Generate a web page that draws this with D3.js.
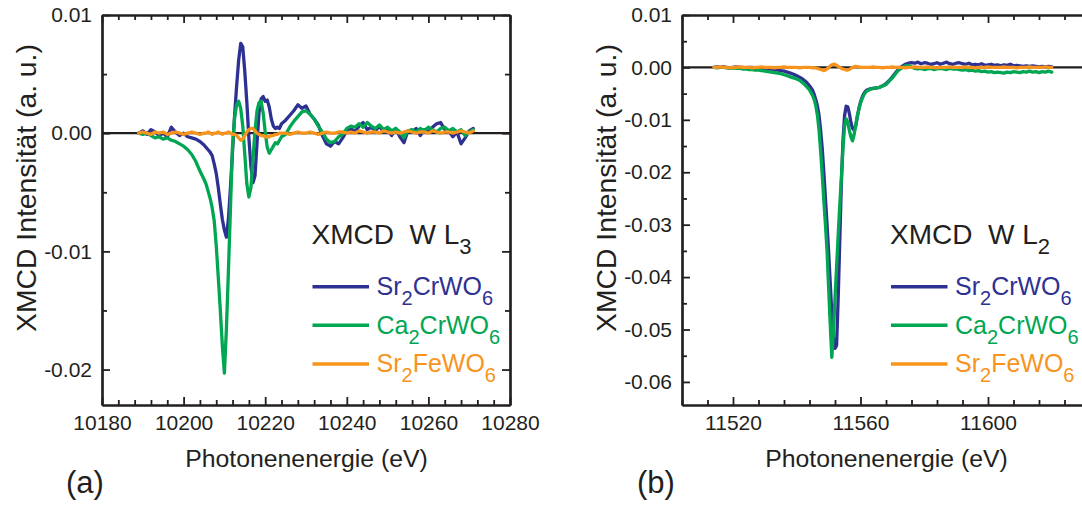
<!DOCTYPE html>
<html>
<head>
<meta charset="utf-8">
<script src="https://cdn.jsdelivr.net/npm/d3@7"></script>
<style>
  html, body { margin: 0; padding: 0; background: #fff; }
  svg { display: block; font-family: "Liberation Sans", Arial, Helvetica, sans-serif; }
</style>
</head>
<body>
<svg id="chart" width="1082" height="506"></svg>
<script>
// ---------- W L3 edge (panel a) ----------
const energyA = [
  10189,10190,10191,10192,10193,10194,10195,10196,10197,10198,10199,10200,10201,10202,10203,10204,10205,
  10205.5,10206,10206.5,10207,10207.5,10208,10208.5,10209,10209.5,10210,10210.5,10211,10211.5,10212,10212.5,
  10213,10213.5,10214,10214.5,10215,10215.5,10216,10216.5,10217,10217.5,10218,10218.5,10219,10219.5,10220,
  10220.5,10221,10221.5,10222,10222.5,10223,10223.5,10224,
  10225,10226,10227,10228,10229,10230,10231,10232,10233,10234,10235,10236,10237,10238,10239,10240,10241,
  10242,10243,10244,10245,10246,10247,10248,10249,10250,10251,10252,10253,10254,10255,10256,10257,10258,
  10259,10260,10261,10262,10263,10264,10265,10266,10267,10268,10269,10270,10271
];
const sr2crwo6A = [
  0.0000,0.0002,-0.0001,0.0003,0.0001,-0.0002,0.0000,-0.0003,0.0005,0.0001,-0.0002,0.0000,-0.0003,-0.0004,-0.0005,-0.0007,-0.0010,
  -0.0012,-0.0014,-0.0016,-0.0019,-0.0026,-0.0034,-0.0046,-0.0060,-0.0073,-0.0082,-0.0088,-0.0072,-0.0045,-0.0015,0.0015,
  0.0040,0.0062,0.0076,0.0073,0.0052,0.0026,-0.0004,-0.0028,-0.0042,-0.0036,-0.0008,0.0018,0.0029,0.0031,0.0027,
  0.0028,0.0022,0.0012,0.0006,0.0004,0.0005,0.0004,0.0008,
  0.0011,0.0015,0.0019,0.0024,0.0021,0.0023,0.0016,0.0012,0.0007,-0.0002,-0.0009,-0.0011,-0.0007,-0.0009,-0.0004,0.0002,0.0004,
  0.0001,0.0006,0.0009,0.0003,0.0005,0.0002,0.0006,0.0001,0.0003,-0.0002,0.0004,-0.0003,-0.0008,0.0002,0.0001,0.0004,-0.0002,
  0.0003,0.0001,0.0005,0.0008,0.0009,0.0003,0.0002,-0.0003,0.0001,-0.0009,-0.0004,0.0002,0.0004
];
const ca2crwo6A = [
  0.0000,-0.0001,0.0000,-0.0002,-0.0004,-0.0003,-0.0005,-0.0004,-0.0006,-0.0007,-0.0009,-0.0011,-0.0014,-0.0018,-0.0024,-0.0032,-0.0039,
  -0.0043,-0.0049,-0.0055,-0.0063,-0.0074,-0.0095,-0.0122,-0.0150,-0.0180,-0.0203,-0.0165,-0.0115,-0.0062,-0.0010,0.0013,
  0.0024,0.0027,0.0021,0.0006,-0.0018,-0.0043,-0.0054,-0.0046,-0.0022,0.0002,0.0019,0.0026,0.0027,0.0017,0.0001,
  -0.0012,-0.0017,-0.0014,-0.0011,-0.0008,-0.0009,-0.0006,-0.0003,
  -0.0001,0.0005,0.0010,0.0014,0.0018,0.0019,0.0016,0.0012,0.0006,0.0001,-0.0005,-0.0008,-0.0007,-0.0003,-0.0001,0.0004,0.0006,
  0.0005,0.0008,0.0005,0.0009,0.0006,0.0004,0.0007,0.0003,0.0005,0.0002,0.0004,0.0001,-0.0004,0.0002,0.0003,0.0001,0.0004,
  0.0002,0.0005,0.0003,0.0001,0.0004,0.0005,0.0002,0.0004,0.0001,0.0003,-0.0002,0.0001,0.0003
];
const sr2fewo6A = [
  0,0.0001,0,-0.0001,0.0001,0,0.0001,-0.0001,0,0.0001,0,-0.0001,0,0.0001,0,-0.0001,0,
  0,0.0001,0,-0.0001,0,0,0.0001,0,-0.0001,0,0,0.0001,0,-0.0001,-0.0001,
  -0.0002,-0.0004,-0.0006,-0.0005,-0.0002,0.0001,0.0003,0.0004,0.0004,0.0002,0,-0.0001,-0.0002,-0.0002,-0.0003,
  -0.0003,-0.0003,-0.0002,-0.0002,-0.0001,-0.0001,0,0,
  0,-0.0001,0,0.0001,0,0,0.0001,0,-0.0001,0,0.0001,0,0,0.0001,0.0001,0,0.0001,
  0,0.0002,0.0001,0,0.0001,0.0001,0,0.0002,0.0001,0,0.0001,0,0.0001,0.0002,0.0001,0,0.0001,
  0.0001,0,0.0002,0.0001,0,0.0001,0.0001,0,0.0001,0.0002,0.0001,0,0.0002
];

// ---------- W L2 edge (panel b) ----------
const energyB = [
  11514,11515,11516,11517,11518,11519,11520,11521,11522,11523,11524,11525,11526,11527,11528,11529,11530,
  11531,11532,11533,11534,11535,11536,11537,11538,11539,11540,11541,11542,11543,11544,11545,
  11545.5,11546,11546.5,11547,11547.5,11548,11548.5,11549,11549.5,11550,11550.5,11551,11551.5,11552,11552.5,
  11553,11553.5,11554,11554.5,11555,11555.5,11556,11556.5,11557,11557.5,11558,11558.5,11559,11559.5,11560,
  11560.5,11561,11561.5,11562,
  11563,11564,11565,11566,11567,11568,11569,11570,11571,11572,11573,11574,11575,11576,11577,11578,11579,
  11580,11581,11582,11583,11584,11585,11586,11587,11588,11589,11590,11591,11592,11593,11594,11595,11596,
  11597,11598,11599,11600,11601,11602,11603,11604,11605,11606,11607,11608,11609,11610,11611,11612,11613,
  11614,11615,11616,11617,11618,11619,11620
];
const sr2crwo6B = [
  0,0.0001,0,0.0001,0,-0.0001,0,0.0001,0,0,-0.0001,0,0,-0.0001,-0.0001,-0.0002,-0.0002,
  -0.0003,-0.0003,-0.0004,-0.0005,-0.0006,-0.0007,-0.0009,-0.0011,-0.0013,-0.0016,-0.0019,-0.0023,-0.0028,-0.0035,-0.0044,
  -0.0052,-0.0062,-0.0074,-0.0092,-0.0120,-0.0155,-0.0200,-0.0250,-0.0300,-0.0352,-0.0410,-0.0470,-0.0515,-0.0536,-0.0530,
  -0.0440,-0.0330,-0.0220,-0.0140,-0.0092,-0.0074,-0.0075,-0.0088,-0.0105,-0.0116,-0.0120,-0.0112,-0.0095,-0.0078,-0.0066,
  -0.0057,-0.0050,-0.0046,-0.0043,
  -0.0041,-0.0040,-0.0039,-0.0038,-0.0035,-0.0031,-0.0025,-0.0018,-0.0010,-0.0003,0.0002,0.0006,0.0008,0.0009,0.0008,0.0010,0.0007,
  0.0009,0.0008,0.0006,0.0007,0.0009,0.0006,0.0008,0.0010,0.0007,0.0006,0.0008,0.0009,0.0007,0.0006,0.0008,0.0005,0.0006,
  0.0005,0.0007,0.0004,0.0005,0.0006,0.0004,0.0005,0.0003,0.0005,0.0004,0.0006,0.0003,0.0004,0.0003,0.0002,0.0003,0.0002,
  0.0003,0.0002,0.0001,0.0002,0.0001,0.0002,0.0001
];
const ca2crwo6B = [
  0,-0.0001,0,0,-0.0001,-0.0002,-0.0001,-0.0002,-0.0002,-0.0003,-0.0003,-0.0004,-0.0004,-0.0005,-0.0005,-0.0006,-0.0007,
  -0.0008,-0.0009,-0.0010,-0.0011,-0.0012,-0.0014,-0.0016,-0.0018,-0.0020,-0.0022,-0.0025,-0.0030,-0.0036,-0.0043,-0.0054,
  -0.0062,-0.0074,-0.0092,-0.0120,-0.0160,-0.0205,-0.0255,-0.0300,-0.0350,-0.0420,-0.0490,-0.0553,-0.0505,-0.0440,-0.0380,
  -0.0320,-0.0262,-0.0210,-0.0155,-0.0112,-0.0098,-0.0105,-0.0120,-0.0133,-0.0140,-0.0128,-0.0110,-0.0092,-0.0080,-0.0068,
  -0.0060,-0.0053,-0.0048,-0.0045,
  -0.0042,-0.0040,-0.0039,-0.0038,-0.0035,-0.0033,-0.0026,-0.0020,-0.0012,-0.0005,-0.0001,0.0003,0.0004,0.0001,-0.0002,-0.0003,-0.0002,
  -0.0004,-0.0003,-0.0002,-0.0004,-0.0003,-0.0002,-0.0003,-0.0004,-0.0002,-0.0003,-0.0003,-0.0004,-0.0005,-0.0004,-0.0006,-0.0005,-0.0007,
  -0.0006,-0.0008,-0.0007,-0.0009,-0.0008,-0.0010,-0.0009,-0.0010,-0.0011,-0.0009,-0.0010,-0.0008,-0.0009,-0.0010,-0.0008,-0.0009,-0.0007,
  -0.0009,-0.0008,-0.0010,-0.0008,-0.0009,-0.0007,-0.0009
];
const sr2fewo6B = [
  0,0,0.0001,0,0,-0.0001,0,0,0.0001,0,0,0,-0.0001,0,0,0.0001,0,
  0,0,-0.0001,0,0,0.0001,0,0,0,0,-0.0001,0,0,0,-0.0001,
  -0.0001,-0.0001,-0.0002,-0.0003,-0.0004,-0.0005,-0.0006,-0.0005,-0.0003,0,0.0003,0.0005,0.0006,0.0006,0.0004,
  0.0002,0,-0.0002,-0.0003,-0.0004,-0.0005,-0.0005,-0.0004,-0.0002,0,0.0001,0.0002,0.0001,0.0001,0,
  0,0,0,0,
  0,0.0001,0,0,-0.0001,0,0,0.0001,0,0,0,-0.0001,0,0,0.0001,0,0,
  0,0.0001,0,0,-0.0001,0,0,0,0.0001,0,0,0,0,0.0001,0,0,-0.0001,
  0,0,0,0.0001,0,0,0,0,0.0001,0,0,0,-0.0001,0,0,0,0.0001,
  0,0,0,0,0.0001,0,0
];

// ---------- axes & labels ----------
const xMajorA = [10180, 10200, 10220, 10240, 10260, 10280];
const xMinorA = [10184,10188,10192,10196,10204,10208,10212,10216,10224,10228,10232,10236,
                 10244,10248,10252,10256,10264,10268,10272,10276];
const yMajorA = [0.01, 0.00, -0.01, -0.02];
const yMinorA = [0.005, -0.005, -0.015];
const xMajorB = [11520, 11560, 11600];
const xMinorB = [11504,11512,11528,11536,11544,11552,11568,11576,11584,11592,11608,11616,11624];
const yMajorB = [0.01, 0.00, -0.01, -0.02, -0.03, -0.04, -0.05, -0.06];
const yMinorB = [0.005, -0.005, -0.015, -0.025, -0.035, -0.045, -0.055];

const seriesLabels = [["Sr", "2", "CrWO", "6"], ["Ca", "2", "CrWO", "6"], ["Sr", "2", "FeWO", "6"]];
const seriesColors = ["#2e3192", "#00a651", "#f7941d"];
const xTitle = "Photonenenergie (eV)";
const yTitle = "XMCD Intensität (a. u.)";

const INK = "#231f20";
const svg = d3.select("#chart");

function subText(sel, parts, subSize, shift) {
  sel.append("tspan").text(parts[0]);
  sel.append("tspan").attr("font-size", subSize).attr("dy", shift).text(parts[1]);
  if (parts.length > 2) {
    sel.append("tspan").attr("dy", -shift).text(parts[2]);
    sel.append("tspan").attr("font-size", subSize).attr("dy", shift).text(parts[3]);
  }
}

function drawPanel(p) {
  const g = svg.append("g");
  const x = d3.scaleLinear().domain(p.xDomain).range([p.left, p.right]);
  const y = d3.scaleLinear().domain(p.yDomain).range([p.bottom, p.top]);

  const clipId = "clip-" + p.id;
  svg.append("defs").append("clipPath").attr("id", clipId)
    .append("rect").attr("x", p.left).attr("y", p.top)
    .attr("width", p.right - p.left).attr("height", p.bottom - p.top);

  // zero line
  g.append("line")
    .attr("x1", x(p.xDomain[0])).attr("x2", x(p.xDomain[1]))
    .attr("y1", y(0)).attr("y2", y(0))
    .attr("stroke", INK).attr("stroke-width", 2.2);

  // spectra
  const line = d3.line().x(d => x(d[0])).y(d => y(d[1]));
  const curves = g.append("g").attr("clip-path", `url(#${clipId})`);
  p.series.forEach((vals, i) => {
    curves.append("path")
      .datum(p.energy.map((e, k) => [e, vals[k]]))
      .attr("d", line)
      .attr("fill", "none")
      .attr("stroke", seriesColors[i])
      .attr("stroke-width", 3.3)
      .attr("stroke-linejoin", "round")
      .attr("stroke-linecap", "round");
  });

  // axes (ticks pointing inward, mirrored on top/right)
  const styleAxis = a => {
    a.selectAll("path.domain").attr("stroke", INK).attr("stroke-width", 2.2);
    a.selectAll(".tick line").attr("stroke", INK).attr("stroke-width", 1.8);
    a.selectAll("text").attr("fill", INK).attr("font-size", 21)
      .attr("font-family", '"Liberation Sans", Arial, Helvetica, sans-serif');
  };
  const fmtY = d => d.toFixed(2);

  // bottom
  g.append("g").attr("transform", `translate(0,${p.bottom})`)
    .call(d3.axisBottom(x).tickValues(p.xMinor).tickSize(-5).tickSizeOuter(0).tickFormat(""))
    .call(styleAxis);
  g.append("g").attr("transform", `translate(0,${p.bottom})`)
    .call(d3.axisBottom(x).tickValues(p.xMajor).tickSize(-8).tickSizeOuter(0).tickPadding(10).tickFormat(d3.format("d")))
    .call(styleAxis);
  // top
  g.append("g").attr("transform", `translate(0,${p.top})`)
    .call(d3.axisTop(x).tickValues(p.xMinor).tickSize(-5).tickSizeOuter(0).tickFormat(""))
    .call(styleAxis);
  g.append("g").attr("transform", `translate(0,${p.top})`)
    .call(d3.axisTop(x).tickValues(p.xMajor).tickSize(-8).tickSizeOuter(0).tickFormat(""))
    .call(styleAxis);
  // left
  g.append("g").attr("transform", `translate(${p.left},0)`)
    .call(d3.axisLeft(y).tickValues(p.yMinor).tickSize(-5).tickSizeOuter(0).tickFormat(""))
    .call(styleAxis);
  g.append("g").attr("transform", `translate(${p.left},0)`)
    .call(d3.axisLeft(y).tickValues(p.yMajor).tickSize(-8).tickSizeOuter(0).tickPadding(10).tickFormat(fmtY))
    .call(styleAxis);
  // right
  g.append("g").attr("transform", `translate(${p.right},0)`)
    .call(d3.axisRight(y).tickValues(p.yMinor).tickSize(-5).tickSizeOuter(0).tickFormat(""))
    .call(styleAxis);
  g.append("g").attr("transform", `translate(${p.right},0)`)
    .call(d3.axisRight(y).tickValues(p.yMajor).tickSize(-8).tickSizeOuter(0).tickFormat(""))
    .call(styleAxis);

  // axis titles
  g.append("text")
    .attr("x", p.xTitleX).attr("y", 467)
    .attr("text-anchor", "middle").attr("font-size", 24.8).attr("fill", INK)
    .text(xTitle);
  g.append("text")
    .attr("transform", `translate(${p.yTitleX},188) rotate(-90)`)
    .attr("text-anchor", "middle").attr("font-size", 28.3).attr("fill", INK)
    .text(yTitle);

  // panel tag
  g.append("text")
    .attr("x", p.tagX).attr("y", 493)
    .attr("font-size", 31).attr("fill", INK)
    .text(p.tag);

  // legend
  const lt = g.append("text")
    .attr("x", p.legendX).attr("y", 244)
    .attr("font-size", 28).attr("fill", INK);
  subText(lt, [p.edgeTitle, p.edgeSub], 22, 10);

  seriesLabels.forEach((parts, i) => {
    const ly = 286.7 + i * 38.6;
    g.append("line")
      .attr("x1", p.legendX + 1).attr("x2", p.legendX + 57.5)
      .attr("y1", ly).attr("y2", ly)
      .attr("stroke", seriesColors[i]).attr("stroke-width", 3.5);
    const t = g.append("text")
      .attr("x", p.legendX + 65).attr("y", ly + 8.5)
      .attr("font-size", 25).attr("fill", seriesColors[i]);
    subText(t, parts, 20, 10);
  });
}

drawPanel({
  id: "a", tag: "(a)", tagX: 66,
  left: 102, right: 510, top: 15, bottom: 405,
  xDomain: [10180, 10280], yDomain: [-0.023, 0.01],
  xMajor: xMajorA, xMinor: xMinorA, yMajor: yMajorA, yMinor: yMinorA,
  energy: energyA, series: [sr2crwo6A, ca2crwo6A, sr2fewo6A],
  xTitleX: 306.5, yTitleX: 36,
  legendX: 311.5, edgeTitle: "XMCD\u00a0\u00a0W\u00a0L", edgeSub: "3"
});

drawPanel({
  id: "b", tag: "(b)", tagX: 637,
  left: 682, right: 1090, top: 15, bottom: 405,
  xDomain: [11504, 11632], yDomain: [-0.0644, 0.01],
  xMajor: xMajorB, xMinor: xMinorB, yMajor: yMajorB, yMinor: yMinorB,
  energy: energyB, series: [sr2crwo6B, ca2crwo6B, sr2fewo6B],
  xTitleX: 886.5, yTitleX: 616,
  legendX: 890, edgeTitle: "XMCD\u00a0\u00a0W\u00a0L", edgeSub: "2"
});
</script>
</body>
</html>
